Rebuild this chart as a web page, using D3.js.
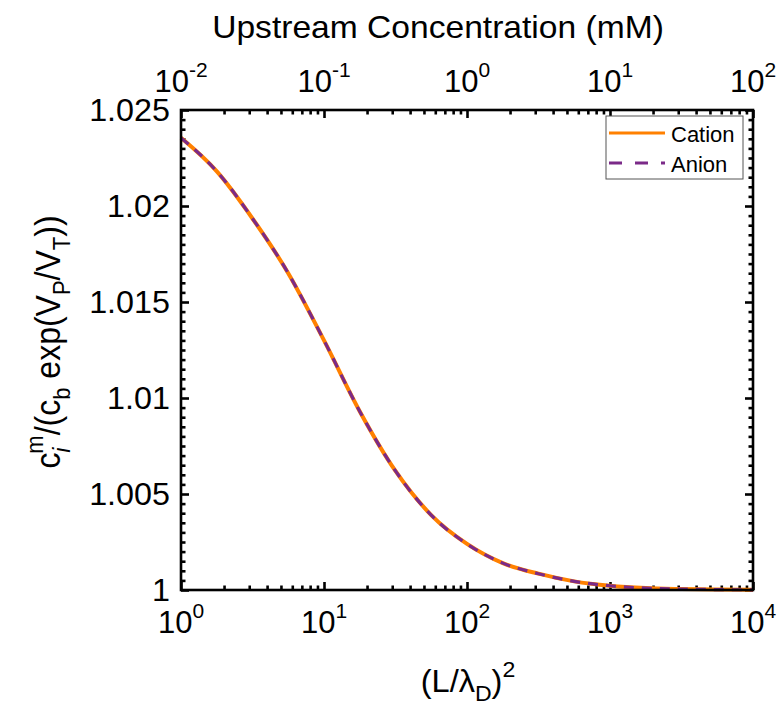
<!DOCTYPE html>
<html>
<head>
<meta charset="utf-8">
<script src="https://cdn.jsdelivr.net/npm/d3@7"></script>
<style>
  body { margin: 0; background: #fff; }
  svg text { font-family: "Liberation Sans", Arial, sans-serif; fill: #000; }
</style>
</head>
<body>
<div id="chart"></div>
<script>
// (L/lambda_D)^2 values and normalized concentrations
const xValues = [1, 1.78, 3.16, 5.62, 10, 17.8, 31.6, 56.2, 100, 178, 316, 562, 1000, 1780, 3160, 5620, 10000]
const cation  = [1.02355, 1.0218, 1.01935, 1.0165, 1.0130, 1.0093, 1.0062, 1.0039, 1.0024, 1.0014, 1.00085, 1.00045, 1.00022, 1.0001, 1.00005, 1.00002, 1.00001]
const anion   = [1.02355, 1.0218, 1.01935, 1.0165, 1.0130, 1.0093, 1.0062, 1.0039, 1.0024, 1.0014, 1.00085, 1.00045, 1.00022, 1.0001, 1.00005, 1.00002, 1.00001]
const seriesNames = ["Cation", "Anion"]
const yTicks = [1, 1.005, 1.01, 1.015, 1.02, 1.025]
const yTickLabels = ["1", "1.005", "1.01", "1.015", "1.02", "1.025"]
const xDomain = [1, 1e4]          // bottom axis
const topDomain = [1e-2, 1e2]     // upstream concentration, mM

const width = 777
const height = 712
const marginTop = 110
const marginRight = 24
const marginBottom = 122
const marginLeft = 181
const orange = "#ff8000"
const purple = "#7b2a88"

const svg = d3.select("#chart").append("svg")
    .attr("width", width)
    .attr("height", height)

const xScale = d3.scaleLog(xDomain, [marginLeft, width - marginRight])
const topScale = d3.scaleLog(topDomain, [marginLeft, width - marginRight])
const yScale = d3.scaleLinear([1, 1.025], [height - marginBottom, marginTop])

// minor tick values
const minorLog = (dom) => {
    const out = []
    for (let e = Math.log10(dom[0]); e < Math.log10(dom[1]); e++) {
        for (let k = 2; k <= 9; k++) out.push(k * Math.pow(10, e))
    }
    return out
}
const majorLog = (dom) => d3.range(Math.log10(dom[0]), Math.log10(dom[1]) + 1).map(e => Math.pow(10, e))
const yMinor = d3.range(0, 51).map(i => 1 + i * 0.0005).filter(v => !yTicks.some(t => Math.abs(t - v) < 1e-9))

const majorLen = 8
const minorLen = 4.5
const axisStroke = 2.6

const addAxis = (axis, tx, ty) => svg.append("g")
    .attr("transform", `translate(${tx},${ty})`)
    .call(axis)
    .call(g => g.select(".domain").remove())

// all ticks point inward
addAxis(d3.axisBottom(xScale).tickValues(minorLog(xDomain)).tickSize(-minorLen).tickFormat(""), 0, height - marginBottom)
addAxis(d3.axisBottom(xScale).tickValues(majorLog(xDomain)).tickSize(-majorLen).tickFormat(""), 0, height - marginBottom)
addAxis(d3.axisTop(topScale).tickValues(minorLog(topDomain)).tickSize(-minorLen).tickFormat(""), 0, marginTop)
addAxis(d3.axisTop(topScale).tickValues(majorLog(topDomain)).tickSize(-majorLen).tickFormat(""), 0, marginTop)
addAxis(d3.axisLeft(yScale).tickValues(yMinor).tickSize(-minorLen).tickFormat(""), marginLeft, 0)
addAxis(d3.axisLeft(yScale).tickValues(yTicks).tickSize(-majorLen).tickFormat(""), marginLeft, 0)
addAxis(d3.axisRight(yScale).tickValues(yMinor).tickSize(-minorLen).tickFormat(""), width - marginRight, 0)
addAxis(d3.axisRight(yScale).tickValues(yTicks).tickSize(-majorLen).tickFormat(""), width - marginRight, 0)

svg.selectAll(".tick line").attr("stroke", "#000").attr("stroke-width", axisStroke)

// y tick labels
svg.append("g")
    .selectAll("text")
    .data(yTicks)
    .join("text")
    .attr("transform", d => `translate(${marginLeft - 11},${yScale(d) + 10.5}) scale(1.06,1)`)
    .attr("text-anchor", "end")
    .style("font-size", "30.5px")
    .text((d, i) => yTickLabels[i])

// log labels 10^n
const powLabel = (g, vals, scale, y) => {
    const t = g.selectAll("text")
        .data(vals)
        .join("text")
        .attr("x", d => scale(d))
        .attr("y", y)
        .attr("text-anchor", "middle")
        .style("font-size", "31px")
    t.append("tspan").text("10")
    t.append("tspan")
        .attr("dy", -15)
        .style("font-size", "21px")
        .text(d => {
            const e = Math.round(Math.log10(d))
            return e < 0 ? "-" + (-e) : String(e)
        })
}
svg.append("g").call(powLabel, majorLog(xDomain), xScale, 633)
svg.append("g").call(powLabel, majorLog(topDomain), topScale, 92)

// curves
const line = d3.line()
    .x(d => xScale(d[0]))
    .y(d => yScale(d[1]))
    .curve(d3.curveMonotoneX)

svg.append("path")
    .datum(xValues.map((x, i) => [x, cation[i]]))
    .attr("fill", "none")
    .attr("stroke", orange)
    .attr("stroke-width", 4)
    .attr("d", line)

svg.append("path")
    .datum(xValues.map((x, i) => [x, anion[i]]))
    .attr("fill", "none")
    .attr("stroke", purple)
    .attr("stroke-width", 3.2)
    .attr("stroke-dasharray", "10,8")
    .attr("d", line)

// frame
svg.append("rect")
    .attr("x", marginLeft)
    .attr("y", marginTop)
    .attr("width", width - marginLeft - marginRight)
    .attr("height", height - marginTop - marginBottom)
    .attr("fill", "none")
    .attr("stroke", "#000")
    .attr("stroke-width", axisStroke)

// legend
const legend = svg.append("g").attr("transform", "translate(606,116)")
legend.append("rect")
    .attr("width", 137)
    .attr("height", 63)
    .attr("fill", "#fff")
    .attr("stroke", "#555")
    .attr("stroke-width", 1)
const legendStyle = [
    { color: orange, dash: null },
    { color: purple, dash: "13,13" }
]
seriesNames.forEach((name, i) => {
    const y = 17 + i * 30
    legend.append("line")
        .attr("x1", 3).attr("x2", 59)
        .attr("y1", y).attr("y2", y)
        .attr("stroke", legendStyle[i].color)
        .attr("stroke-width", 3)
        .attr("stroke-dasharray", legendStyle[i].dash)
    legend.append("text")
        .attr("x", 65)
        .attr("y", y + 9)
        .style("font-size", "22px")
        .text(name)
})

// axis titles
const bottomTitle = svg.append("text")
    .attr("transform", "translate(468,692) scale(1.05,1)")
    .attr("text-anchor", "middle")
    .style("font-size", "31px")
bottomTitle.append("tspan").text("(L/λ")
bottomTitle.append("tspan").attr("dy", 9).style("font-size", "22px").text("D")
bottomTitle.append("tspan").attr("dy", -9).text(")")
bottomTitle.append("tspan").attr("dy", -15).style("font-size", "22px").text("2")

svg.append("text")
    .attr("transform", "translate(438,38) scale(1.05,1)")
    .attr("text-anchor", "middle")
    .style("font-size", "32px")
    .text("Upstream Concentration (mM)")

const yTitle = svg.append("text")
    .attr("transform", "translate(60,342) scale(1.08,1) rotate(-90)")
    .attr("text-anchor", "middle")
    .style("font-size", "32px")
yTitle.append("tspan").text("c")
yTitle.append("tspan").attr("dy", 9).style("font-size", "22px").style("font-style", "italic").text("i")
yTitle.append("tspan").attr("dx", -6).attr("dy", -25).style("font-size", "22px").text("m")
yTitle.append("tspan").attr("dy", 16).text("/(c")
yTitle.append("tspan").attr("dy", 9).style("font-size", "22px").text("b")
yTitle.append("tspan").attr("dy", -9).text(" exp(V")
yTitle.append("tspan").attr("dy", 9).style("font-size", "22px").text("P")
yTitle.append("tspan").attr("dy", -9).text("/V")
yTitle.append("tspan").attr("dy", 9).style("font-size", "22px").text("T")
yTitle.append("tspan").attr("dy", -9).text("))")
</script>
</body>
</html>
